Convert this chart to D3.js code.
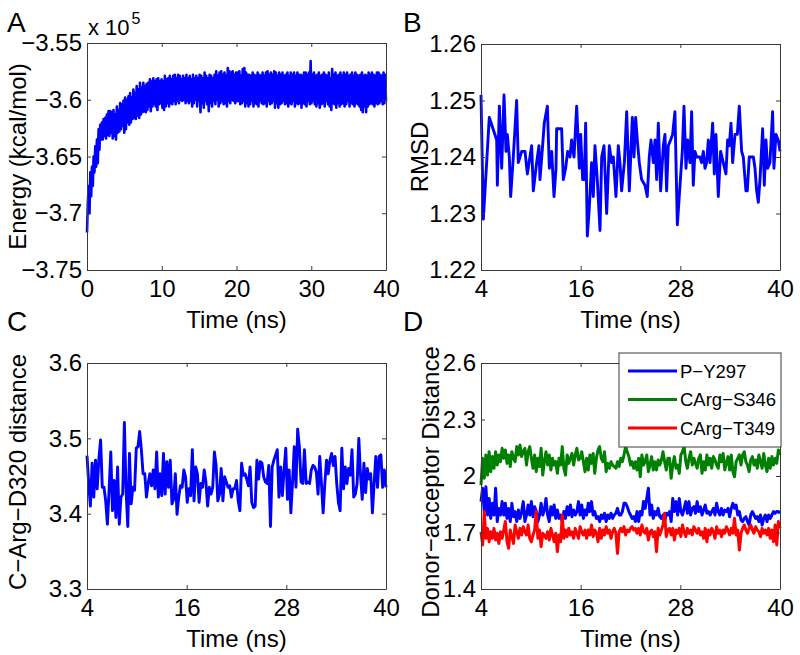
<!DOCTYPE html>
<html><head><meta charset="utf-8">
<script src="https://cdn.jsdelivr.net/npm/d3@7"></script>
<style>body{margin:0;background:#fff}svg{display:block}</style>
</head><body><svg id="c" width="800" height="655"></svg>
<script>
// ---------- DATA ----------
// Panel A: total energy (x 10^5 kcal/mol), dense trace 0–40 ns (alternating high/low samples of the noisy band)
const energyE5 = [
-3.717,-3.691,-3.676,-3.700,-3.664,-3.685,-3.659,-3.676,-3.650,-3.664,-3.641,-3.659,-3.635,-3.656,-3.626,-3.644,-3.622,-3.635,-3.620,-3.635,
-3.617,-3.632,-3.616,-3.634,-3.613,-3.631,-3.610,-3.632,-3.610,-3.629,-3.611,-3.634,-3.609,-3.632,-3.613,-3.635,-3.606,-3.629,-3.609,-3.628,
-3.603,-3.626,-3.604,-3.623,-3.601,-3.629,-3.598,-3.626,-3.600,-3.620,-3.597,-3.622,-3.594,-3.620,-3.598,-3.617,-3.591,-3.616,-3.594,-3.617,
-3.588,-3.614,-3.591,-3.616,-3.585,-3.613,-3.589,-3.611,-3.585,-3.610,-3.588,-3.611,-3.586,-3.609,-3.585,-3.606,-3.582,-3.610,-3.584,-3.606,
-3.581,-3.604,-3.584,-3.606,-3.582,-3.609,-3.581,-3.604,-3.584,-3.603,-3.582,-3.607,-3.584,-3.609,-3.579,-3.606,-3.582,-3.603,-3.581,-3.606,
-3.579,-3.603,-3.582,-3.604,-3.579,-3.601,-3.578,-3.604,-3.581,-3.601,-3.578,-3.603,-3.579,-3.600,-3.582,-3.601,-3.579,-3.600,-3.581,-3.603,
-3.578,-3.601,-3.581,-3.603,-3.579,-3.601,-3.582,-3.606,-3.578,-3.603,-3.581,-3.600,-3.579,-3.606,-3.581,-3.601,-3.578,-3.611,-3.579,-3.603,
-3.581,-3.607,-3.576,-3.601,-3.579,-3.604,-3.581,-3.610,-3.578,-3.603,-3.579,-3.606,-3.581,-3.601,-3.578,-3.604,-3.575,-3.600,-3.579,-3.606,
-3.576,-3.603,-3.575,-3.601,-3.578,-3.604,-3.576,-3.603,-3.579,-3.606,-3.572,-3.601,-3.575,-3.603,-3.576,-3.600,-3.575,-3.601,-3.578,-3.603,
-3.576,-3.601,
-3.576,-3.601,-3.575,-3.604,-3.579,-3.603,-3.573,-3.601,-3.572,-3.606,-3.576,-3.603,-3.578,-3.606,-3.578,-3.604,-3.579,-3.601,-3.576,-3.606,
-3.578,-3.603,-3.579,-3.604,-3.576,-3.606,-3.578,-3.601,-3.579,-3.603,-3.576,-3.604,-3.579,-3.603,-3.576,-3.606,-3.575,-3.601,-3.578,-3.604,
-3.576,-3.603,-3.578,-3.601,-3.575,-3.607,-3.576,-3.603,-3.579,-3.607,-3.576,-3.604,-3.578,-3.603,-3.576,-3.601,-3.579,-3.604,-3.578,-3.603,
-3.576,-3.606,-3.579,-3.603,-3.576,-3.604,-3.578,-3.601,-3.576,-3.606,-3.579,-3.603,-3.576,-3.604,-3.578,-3.603,-3.578,-3.607,-3.579,-3.603,
-3.576,-3.604,-3.576,-3.606,-3.578,-3.601,-3.576,-3.604,-3.566,-3.603,-3.578,-3.601,-3.576,-3.604,-3.579,-3.606,-3.578,-3.603,-3.576,-3.607,
-3.579,-3.604,-3.578,-3.603,-3.576,-3.606,-3.578,-3.601,-3.579,-3.604,-3.576,-3.606,-3.581,-3.609,-3.573,-3.603,-3.578,-3.604,-3.576,-3.607,
-3.579,-3.603,-3.578,-3.606,-3.576,-3.604,-3.579,-3.603,-3.576,-3.606,-3.578,-3.604,-3.576,-3.601,-3.579,-3.606,-3.578,-3.603,-3.576,-3.604,
-3.579,-3.606,-3.576,-3.603,-3.578,-3.604,-3.579,-3.606,-3.578,-3.609,-3.576,-3.611,-3.579,-3.606,-3.578,-3.611,-3.579,-3.606,-3.576,-3.604,
-3.578,-3.603,-3.576,-3.604,-3.578,-3.606,-3.579,-3.603,-3.576,-3.604,-3.576,-3.603,-3.578,-3.601,-3.579,-3.604,-3.576,-3.603,-3.578,-3.601
];

// Panel B: RMSD vs time
const timeB = [4.00,4.28,5.00,5.89,5.97,6.21,6.49,6.77,7.01,7.17,7.41,7.57,7.89,8.09,8.29,8.49,8.90,9.30,9.58,10.10,10.30,10.70,10.98,11.10,11.42,11.62,11.99,12.23,12.51,12.79,13.03,13.11,13.71,13.91,14.19,14.43,14.71,14.91,15.20,15.52,15.84,16.00,16.24,16.44,16.60,16.80,17.04,17.32,17.52,17.72,18.00,18.33,18.53,18.81,19.13,19.45,19.73,19.93,20.25,20.53,20.73,20.93,21.26,21.54,21.86,22.22,22.42,22.62,22.82,23.06,23.34,23.74,24.02,24.26,24.47,24.75,24.95,25.15,25.35,25.63,25.95,26.15,26.35,26.55,26.83,27.07,27.35,27.64,27.96,28.24,28.44,28.68,28.88,29.16,29.36,29.56,29.76,29.96,30.16,30.36,30.56,30.77,30.97,31.17,31.37,31.57,31.89,32.09,32.29,32.57,32.85,33.17,33.49,33.69,33.90,34.10,34.30,34.58,34.86,35.10,35.38,35.58,35.90,36.06,36.30,36.58,36.79,36.99,37.19,37.39,37.59,37.91,38.11,38.31,38.51,38.79,39.11,39.27,39.51,39.79,40.00];
const rmsd = [1.251,1.229,1.247,1.243,1.235,1.249,1.238,1.251,1.241,1.244,1.240,1.233,1.240,1.245,1.250,1.239,1.241,1.241,1.237,1.242,1.234,1.239,1.242,1.236,1.242,1.246,1.249,1.238,1.241,1.233,1.238,1.245,1.245,1.236,1.238,1.241,1.240,1.243,1.240,1.249,1.238,1.244,1.236,1.236,1.246,1.226,1.231,1.239,1.233,1.242,1.236,1.227,1.240,1.242,1.230,1.242,1.239,1.240,1.233,1.242,1.239,1.234,1.239,1.248,1.234,1.247,1.240,1.247,1.243,1.239,1.236,1.235,1.233,1.240,1.243,1.239,1.243,1.236,1.246,1.234,1.242,1.244,1.234,1.242,1.243,1.244,1.248,1.228,1.235,1.241,1.249,1.238,1.243,1.239,1.248,1.235,1.241,1.240,1.240,1.240,1.239,1.241,1.238,1.239,1.243,1.239,1.246,1.237,1.244,1.233,1.241,1.239,1.237,1.243,1.242,1.246,1.239,1.244,1.244,1.249,1.241,1.240,1.234,1.234,1.240,1.240,1.240,1.238,1.234,1.232,1.236,1.245,1.235,1.243,1.238,1.239,1.248,1.238,1.244,1.243,1.241];

// Panel C: C-Arg–D320 distance, 4–40 ns
const cargD320 = [3.477,3.440,3.410,3.467,3.422,3.471,3.433,3.473,3.498,3.435,3.435,3.417,3.386,3.431,3.482,3.404,3.444,3.395,3.462,3.386,3.422,3.426,3.521,3.431,3.383,3.480,3.413,3.435,3.431,3.487,3.489,3.509,3.485,3.453,3.453,3.422,3.440,3.453,3.437,3.458,3.433,3.482,3.422,3.453,3.424,3.480,3.426,3.469,3.435,3.471,3.413,3.419,3.453,3.399,3.422,3.437,3.435,3.458,3.449,3.415,3.433,3.424,3.485,3.417,3.462,3.453,3.415,3.440,3.435,3.458,3.442,3.410,3.435,3.426,3.435,3.482,3.464,3.417,3.426,3.460,3.417,3.449,3.442,3.435,3.437,3.422,3.433,
3.433,3.444,3.417,3.404,3.467,3.451,3.453,3.446,3.437,3.462,3.415,3.408,3.410,3.471,3.446,3.469,3.467,3.449,3.442,3.440,3.464,3.383,3.462,3.471,3.478,3.485,3.422,3.462,3.424,3.458,3.487,3.419,3.458,3.401,3.442,3.489,3.435,3.512,3.489,3.442,3.440,3.485,3.440,3.442,3.440,3.458,3.464,3.462,3.455,3.426,3.476,3.440,3.401,3.440,3.471,3.453,3.471,3.480,3.464,3.476,3.440,3.415,3.404,3.487,3.433,3.462,3.440,3.460,3.451,3.485,3.422,3.426,3.440,3.500,3.451,3.419,3.467,3.428,3.460,3.446,3.453,3.401,3.440,3.476,3.435,3.476,3.478,3.435,3.458,3.435];

// Panel D: donor–acceptor distances, 4–40 ns
const pY297 = [1.864,1.935,1.811,1.943,1.793,1.881,1.775,1.855,1.793,1.935,1.758,1.828,1.793,1.864,1.793,1.855,1.775,1.828,1.758,1.855,1.784,1.811,1.758,1.819,1.775,1.811,1.864,1.758,1.793,1.846,1.793,1.864,1.784,1.837,1.811,1.758,1.793,1.855,1.793,1.819,1.881,1.793,1.758,1.837,1.793,1.846,1.775,1.819,1.775,1.793,1.758,1.811,1.775,1.837,1.793,1.846,1.784,1.819,1.793,1.811,1.864,1.793,1.846,1.775,1.819,1.793,1.855,1.811,1.864,1.793,1.811,1.775,1.784,1.758,1.793,1.775,1.802,1.758,1.793,1.775,1.802,1.775,1.793,1.802,1.828,1.793,1.793,1.811,1.855,1.855,1.837,1.811,1.793,1.775,1.784,1.758,
1.811,1.758,1.811,1.793,1.864,1.828,1.881,1.935,1.793,1.846,1.775,1.811,1.793,1.828,1.784,1.775,1.793,1.758,1.802,1.793,1.811,1.758,1.881,1.811,1.864,1.793,1.881,1.811,1.793,1.828,1.864,1.802,1.864,1.793,1.828,1.837,1.802,1.864,1.811,1.837,1.793,1.819,1.846,1.802,1.811,1.793,1.811,1.828,1.793,1.855,1.811,1.793,1.828,1.793,1.819,1.811,1.828,1.784,1.828,1.855,1.828,1.846,1.793,1.811,1.766,1.758,1.775,1.784,1.758,1.740,1.793,1.811,1.793,1.775,1.784,1.758,1.793,1.740,1.775,1.793,1.758,1.793,1.775,1.793,1.811,1.802,1.811,1.811,1.802];
const cargS346 = [1.952,2.094,1.988,2.112,2.005,2.129,2.023,2.103,2.041,2.129,2.058,2.112,2.076,2.147,2.094,2.138,2.067,2.112,2.050,2.129,2.094,2.076,2.156,2.112,2.165,2.103,2.129,2.147,2.058,2.129,2.156,2.094,2.041,2.112,2.023,2.094,2.050,2.147,2.005,2.076,2.129,2.058,2.112,2.032,2.094,2.058,2.076,2.014,2.094,2.058,2.156,2.041,2.005,2.112,2.067,2.094,2.120,2.058,2.112,2.147,2.085,2.094,2.129,2.076,2.023,2.094,2.032,2.112,2.067,2.120,2.014,2.094,2.138,2.156,2.094,2.076,2.129,2.023,2.067,2.041,2.076,2.058,2.050,2.041,2.076,2.050,2.094,2.076,2.112,2.156,2.129,2.103,2.058,2.076,2.041,2.076,
2.032,2.094,1.996,2.112,2.058,2.076,2.112,2.023,2.058,2.103,2.032,2.076,2.032,2.085,2.058,2.085,2.129,2.076,2.032,2.094,2.094,1.988,2.058,2.103,2.041,2.058,2.014,2.112,2.129,2.156,2.076,2.041,2.094,2.129,2.058,2.094,2.067,2.041,2.094,2.112,2.014,2.076,2.032,2.112,2.058,2.094,2.041,2.103,2.085,2.058,2.041,2.112,2.076,2.120,2.032,2.067,2.103,2.032,2.112,2.023,1.996,2.076,2.094,2.112,2.058,2.112,2.129,2.076,2.058,2.023,2.085,2.103,2.058,2.085,2.041,2.112,2.076,2.041,2.120,2.058,2.023,2.094,2.041,2.103,2.058,2.094,2.067,2.138,2.112];
const cargT349 = [1.704,1.634,1.811,1.669,1.722,1.651,1.704,1.669,1.722,1.660,1.696,1.642,1.704,1.669,1.713,1.758,1.651,1.616,1.713,1.678,1.642,1.740,1.704,1.669,1.722,1.687,1.731,1.704,1.687,1.740,1.669,1.651,1.687,1.713,1.811,1.669,1.713,1.625,1.696,1.687,1.669,1.704,1.660,1.722,1.687,1.651,1.696,1.598,1.687,1.651,1.793,1.669,1.713,1.678,1.722,1.687,1.704,1.669,1.722,1.696,1.669,1.731,1.704,1.687,1.713,1.669,1.713,1.687,1.740,1.678,1.713,1.696,1.651,1.722,1.669,1.713,1.687,1.731,1.696,1.713,1.669,1.704,1.722,1.696,1.589,1.704,1.722,1.704,1.731,1.687,1.713,1.704,1.722,1.731,1.713,1.722,
1.696,1.722,1.687,1.740,1.704,1.696,1.722,1.660,1.704,1.713,1.678,1.704,1.598,1.722,1.687,1.713,1.740,1.802,1.678,1.713,1.722,1.687,1.722,1.660,1.713,1.696,1.722,1.678,1.740,1.704,1.678,1.722,1.696,1.713,1.687,1.731,1.713,1.696,1.722,1.687,1.704,1.669,1.722,1.651,1.713,1.687,1.722,1.704,1.669,1.731,1.696,1.713,1.678,1.713,1.696,1.731,1.713,1.687,1.722,1.696,1.775,1.687,1.713,1.607,1.696,1.722,1.740,1.713,1.696,1.722,1.740,1.713,1.696,1.731,1.713,1.704,1.678,1.722,1.696,1.713,1.687,1.722,1.669,1.713,1.651,1.740,1.634,1.758,1.722];

const seriesNames = ["P\u2212Y297", "CArg\u2212S346", "CArg\u2212T349"];
const seriesColors = ["#0000ff", "#008000", "#ff0000"];

const xTicksA = [0, 10, 20, 30, 40];
const xTicksBCD = [4, 16, 28, 40];
const yTicksA = [-3.75, -3.7, -3.65, -3.6, -3.55];
const yTicksB = [1.22, 1.23, 1.24, 1.25, 1.26];
const yTicksC = [3.3, 3.4, 3.5, 3.6];
const yTicksD = [1.4, 1.7, 2, 2.3, 2.6];

// ---------- DRAW ----------
const FONT = '"Liberation Sans", Arial, Helvetica, sans-serif';
const svg = d3.select("#c");
svg.append("rect").attr("width", 800).attr("height", 655).attr("fill", "#fff");

const fmt = v => String(Math.round(v * 1000) / 1000).replace("-", "\u2212");
const uniform = (vals, t0, t1) => vals.map((v, i) => [t0 + (t1 - t0) * i / (vals.length - 1), v]);

function panel(cfg) {
  const x = d3.scaleLinear().domain(cfg.xDomain).range([cfg.left, cfg.right]);
  const y = d3.scaleLinear().domain(cfg.yDomain).range([cfg.bottom, cfg.top]);
  const g = svg.append("g");
  const line = d3.line().x(d => x(d[0])).y(d => y(d[1]));
  cfg.series.forEach(s => {
    g.append("path").datum(s.points)
      .attr("fill", "none").attr("stroke", s.color).attr("stroke-width", s.width)
      .attr("stroke-linejoin", "round").attr("stroke-linecap", "butt")
      .attr("d", line);
  });
  const styleAxis = sel => {
    sel.attr("font-size", 24).attr("font-family", FONT).attr("color", "#3a3a3a");
    sel.selectAll("path,line").attr("stroke-width", 1);
    sel.selectAll("text").attr("fill", "#000");
  };
  svg.append("g").attr("transform", `translate(0,${cfg.bottom})`)
    .call(d3.axisBottom(x).tickValues(cfg.xTicks).tickSizeInner(-4).tickSizeOuter(0).tickPadding(10).tickFormat(fmt))
    .call(styleAxis);
  svg.append("g").attr("transform", `translate(0,${cfg.top})`)
    .call(d3.axisTop(x).tickValues(cfg.xTicks).tickSizeInner(-4).tickSizeOuter(0).tickFormat(""))
    .call(styleAxis);
  svg.append("g").attr("transform", `translate(${cfg.left},0)`)
    .call(d3.axisLeft(y).tickValues(cfg.yTicks).tickSizeInner(-4).tickSizeOuter(0).tickPadding(5).tickFormat(fmt))
    .call(styleAxis);
  svg.append("g").attr("transform", `translate(${cfg.right},0)`)
    .call(d3.axisRight(y).tickValues(cfg.yTicks).tickSizeInner(-4).tickSizeOuter(0).tickFormat(""))
    .call(styleAxis);
  svg.append("text").attr("x", (cfg.left + cfg.right) / 2).attr("y", cfg.bottom + 58)
    .attr("text-anchor", "middle").attr("font-family", FONT).attr("font-size", 24).text("Time (ns)");
  svg.append("text")
    .attr("transform", `translate(${cfg.yLabelX},${(cfg.top + cfg.bottom) / 2 + (cfg.yLabelDy || 0)}) rotate(-90)`)
    .attr("text-anchor", "middle").attr("font-family", FONT).attr("font-size", 24).text(cfg.yLabel);
  svg.append("text").attr("x", cfg.letterX).attr("y", cfg.letterY)
    .attr("font-family", FONT).attr("font-size", 28).text(cfg.letter);
  return { x, y };
}

// A
panel({
  left: 87, right: 386, top: 43, bottom: 270,
  xDomain: [0, 40], yDomain: [-3.75, -3.55], xTicks: xTicksA, yTicks: yTicksA,
  series: [{ points: uniform(energyE5, 0, 40), color: "#0000ff", width: 2.6 }],
  yLabel: "Energy (kcal/mol)", yLabelX: 26, letter: "A", letterX: 7, letterY: 32
});
const ex = svg.append("text").attr("x", 88).attr("y", 35).attr("font-family", FONT).attr("font-size", 22).text("x 10");
ex.append("tspan").attr("dx", 2).attr("dy", -11).attr("font-size", 16).text("5");

// B
panel({
  left: 481, right: 780, top: 44, bottom: 270,
  xDomain: [4, 40], yDomain: [1.22, 1.26], xTicks: xTicksBCD, yTicks: yTicksB,
  series: [{ points: timeB.map((t, i) => [t, rmsd[i]]).filter(d => d[1] !== undefined), color: "#0000ff", width: 2.9 }],
  yLabel: "RMSD", yLabelX: 428, letter: "B", letterX: 403, letterY: 32
});

// C
panel({
  left: 87, right: 386, top: 363, bottom: 589,
  xDomain: [4, 40], yDomain: [3.3, 3.6], xTicks: xTicksBCD, yTicks: yTicksC,
  series: [{ points: uniform(cargD320, 4, 40), color: "#0000ff", width: 2.9 }],
  yLabel: "C\u2212Arg\u2212D320 distance", yLabelX: 26, yLabelDy: -4, letter: "C", letterX: 7, letterY: 331
});

// D
const dSeries = [pY297, cargS346, cargT349];
panel({
  left: 481, right: 780, top: 363, bottom: 589,
  xDomain: [4, 40], yDomain: [1.4, 2.6], xTicks: xTicksBCD, yTicks: yTicksD,
  series: dSeries.map((vals, i) => ({ points: uniform(vals, 4, 40), color: seriesColors[i], width: 3 })),
  yLabel: "Donor\u2212acceptor Distance", yLabelX: 439, yLabelDy: 6, letter: "D", letterX: 403, letterY: 331
});

// Legend for D
const lg = svg.append("g").attr("transform", "translate(619,353)");
lg.append("rect").attr("x", 0).attr("y", 0).attr("width", 162).attr("height", 94)
  .attr("fill", "#fff").attr("stroke", "#3a3a3a").attr("stroke-width", 1);
seriesNames.forEach((name, i) => {
  const cy = 18 + i * 28.5;
  lg.append("line").attr("x1", 9).attr("x2", 58).attr("y1", cy).attr("y2", cy)
    .attr("stroke", seriesColors[i]).attr("stroke-width", 3);
  lg.append("text").attr("x", 61).attr("y", cy).attr("dy", "0.36em")
    .attr("font-family", FONT).attr("font-size", 18.5).text(name);
});
</script>
</body></html>
